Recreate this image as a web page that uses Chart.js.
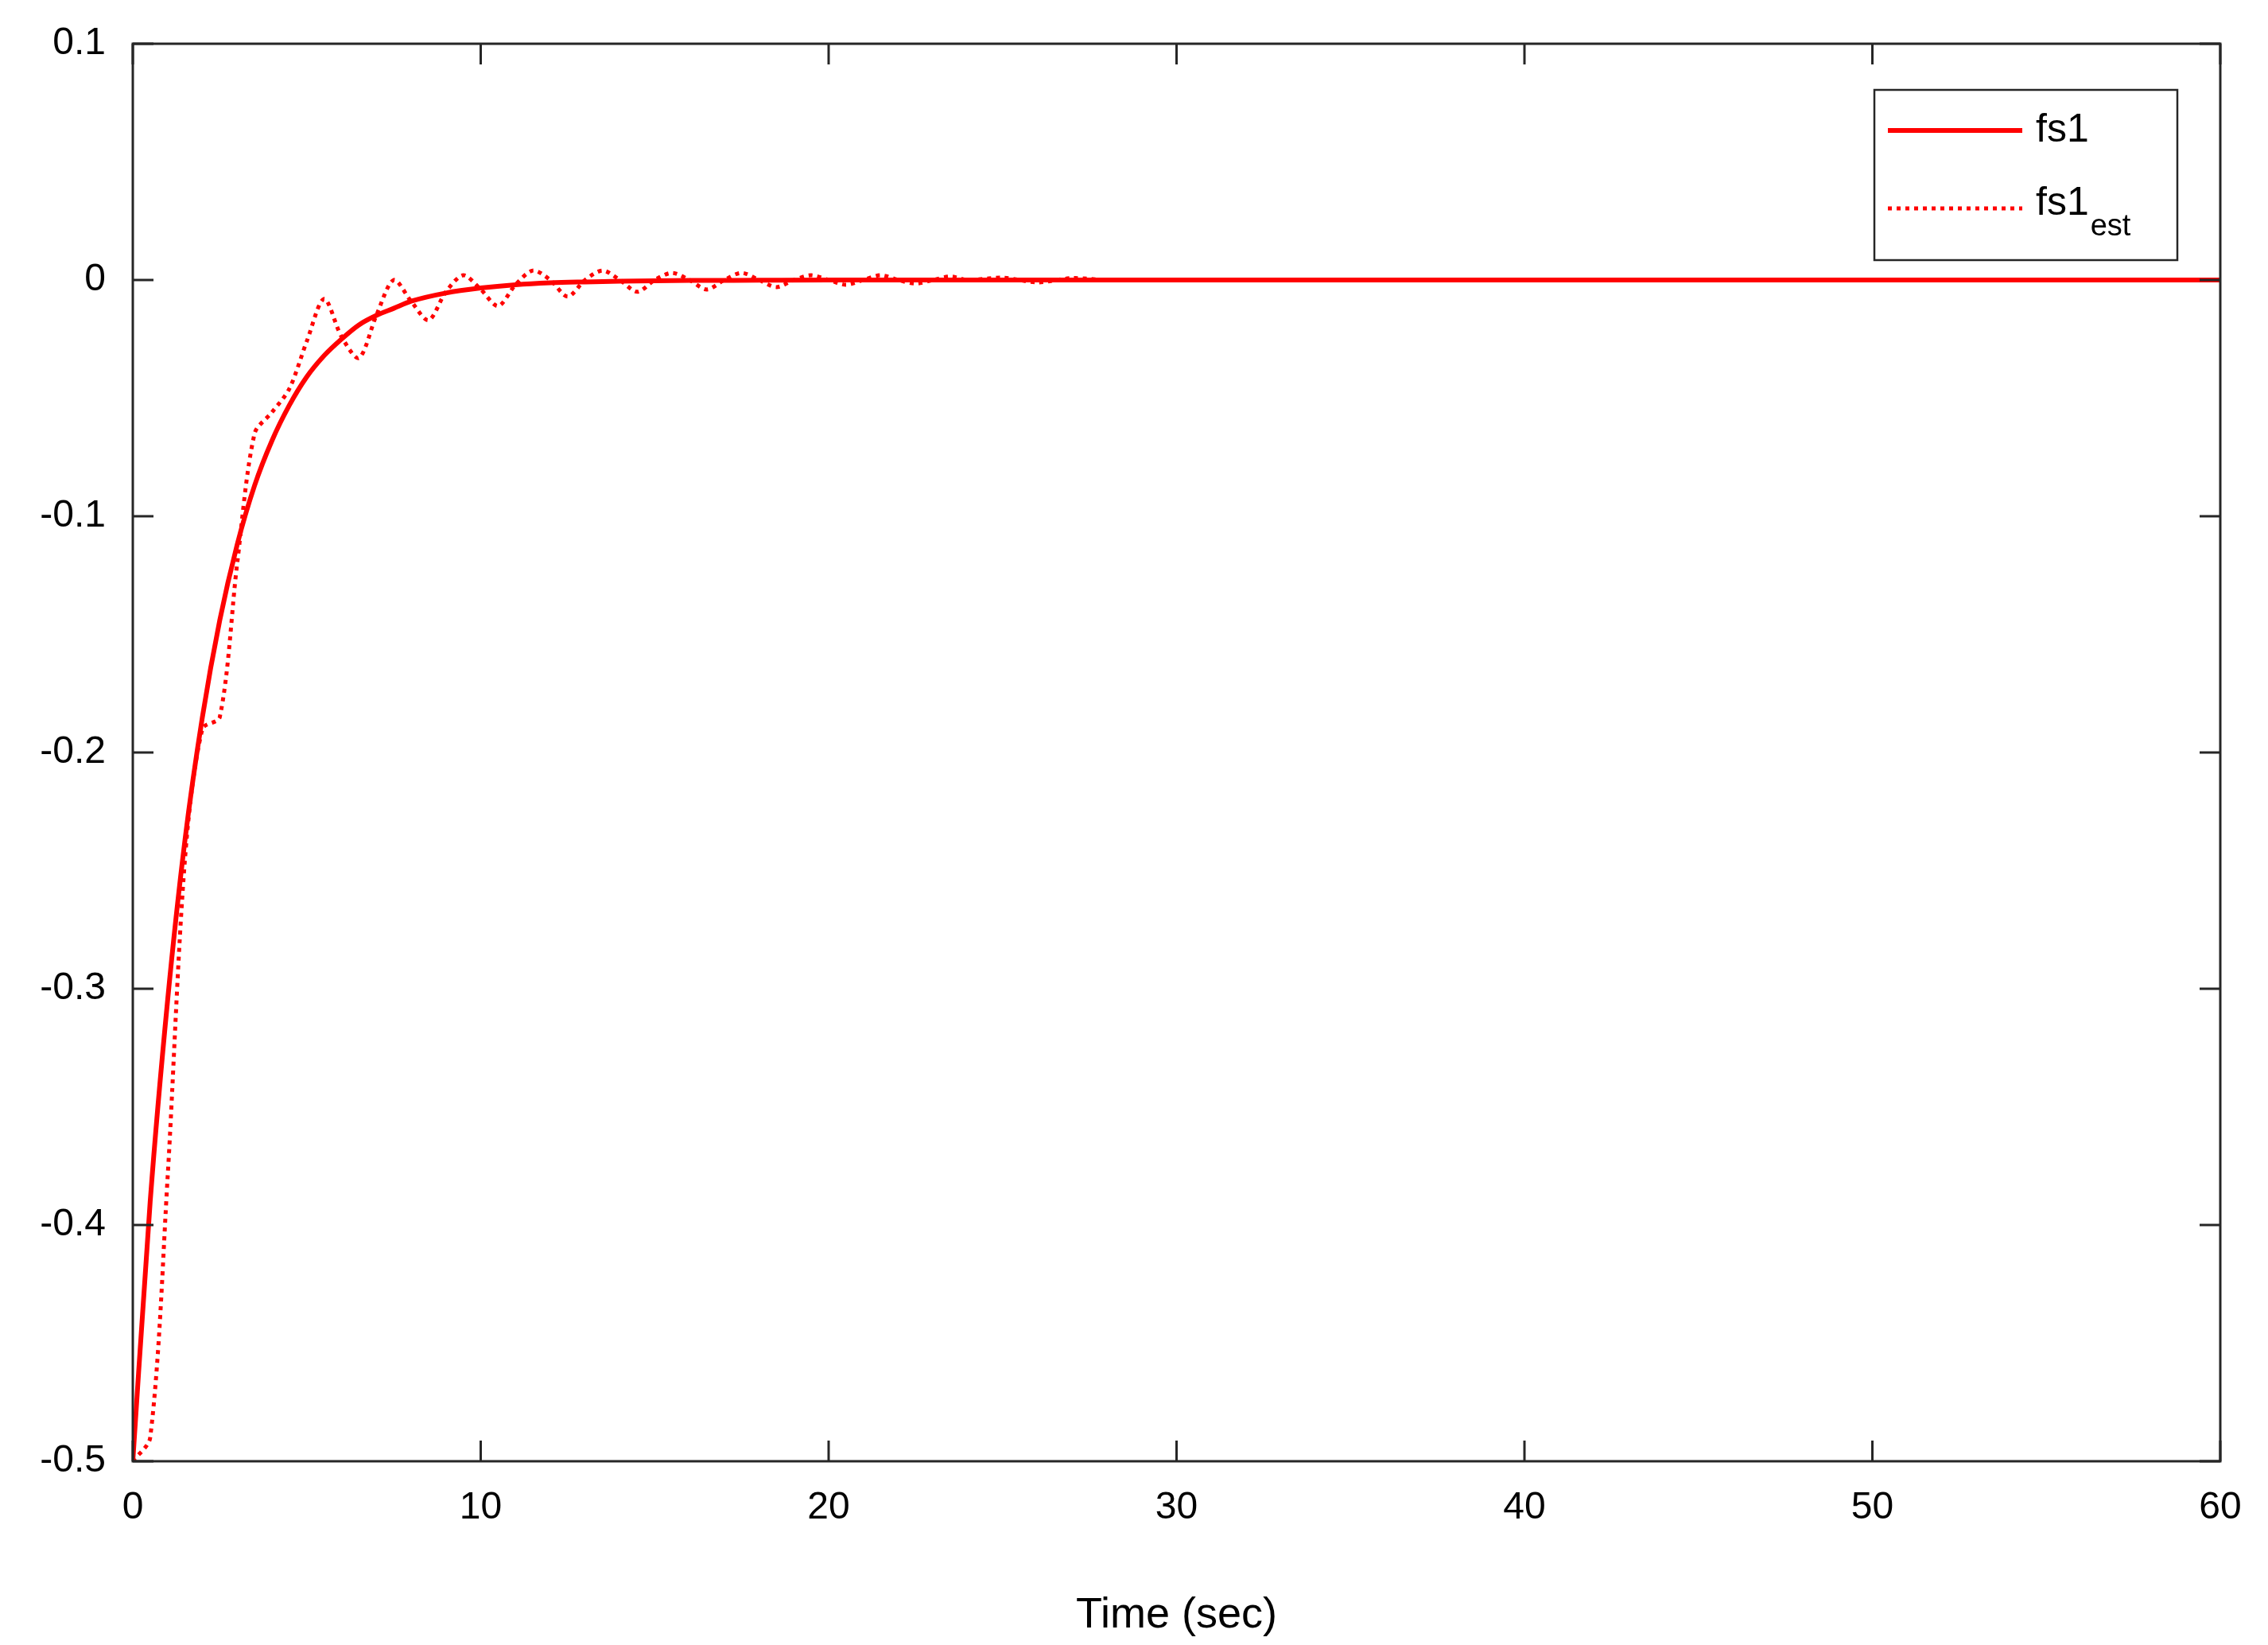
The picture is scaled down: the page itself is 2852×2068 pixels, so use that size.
<!DOCTYPE html>
<html>
<head>
<meta charset="utf-8">
<script src="https://cdn.jsdelivr.net/npm/chart.js@4"></script>
<style>body{margin:0;background:#fff}</style>
</head>
<body>
<canvas id="myChart" width="2852" height="2068"></canvas>
<script>
// solid line: fs1
var timeFs1 = [0,0.5,1,1.5,2,2.5,3,3.5,4,4.5,5,5.5,6,6.5,7,7.5,8,9,10,11,12,13,14,15,16,18,20,25,30,40,50,60];
var fs1 = [-0.5,-0.39,-0.305,-0.237,-0.185,-0.144,-0.112,-0.087,-0.068,-0.053,-0.041,-0.032,-0.025,-0.019,-0.015,-0.012,-0.009,-0.0055,-0.0034,-0.002,-0.0012,-0.0008,-0.0005,-0.0003,-0.0002,-0.0001,0,0,0,0,0,0];

// dotted line: fs1 estimate
var timeEst = [0,0.5,1,1.5,2,2.5,3,3.5,4,4.5,5,5.5,6,6.5,7,7.5,8,8.5,9,9.5,10,10.5,11,11.5,12,12.5,13,13.5,14,14.5,15,15.5,16,16.5,17,17.5,18,18.5,19,19.5,20,20.5,21,21.5,22,22.5,23,23.5,24,25,26,27,28,30,35,40,50,60];
var fs1Est = [-0.5,-0.49,-0.38,-0.245,-0.19,-0.185,-0.12,-0.065,-0.056,-0.046,-0.026,-0.008,-0.024,-0.033,-0.015,0.0,-0.009,-0.017,-0.005,0.002,-0.004,-0.011,-0.002,0.004,0.0,-0.007,0.0,0.004,0.0,-0.005,0.0,0.003,0.0,-0.004,0.0,0.003,0.0,-0.003,0.0,0.002,0.0,-0.002,0.0,0.002,0.0,-0.0015,0.0,0.0015,0.0,0.001,-0.001,0.0008,0,0,0,0,0,0];

var xTicks = [0,10,20,30,40,50,60];
var yTicks = [0.1,0,-0.1,-0.2,-0.3,-0.4,-0.5];
var yLabels = ["0.1","0","-0.1","-0.2","-0.3","-0.4","-0.5"];

var font = "'Liberation Sans', Arial, sans-serif";
var axisColor = "#262626";

var frame = {
    id: "frame",
    afterDraw: function(chart) {
        var c = chart.ctx, a = chart.chartArea;
        var xs = chart.scales.x, ys = chart.scales.y;
        c.save();
        c.strokeStyle = axisColor;
        c.lineWidth = 3;
        c.strokeRect(a.left, a.top, a.right - a.left, a.bottom - a.top);
        var t = 26;
        c.beginPath();
        xTicks.forEach(function(v) {
            var px = xs.getPixelForValue(v);
            c.moveTo(px, a.bottom); c.lineTo(px, a.bottom - t);
            c.moveTo(px, a.top); c.lineTo(px, a.top + t);
        });
        yTicks.forEach(function(v) {
            var py = ys.getPixelForValue(v);
            c.moveTo(a.left, py); c.lineTo(a.left + t, py);
            c.moveTo(a.right, py); c.lineTo(a.right - t, py);
        });
        c.stroke();

        // legend box
        var bx = 2357, by = 113, bw = 381, bh = 214;
        c.fillStyle = "#fff";
        c.fillRect(bx, by, bw, bh);
        c.lineWidth = 2.5;
        c.strokeStyle = axisColor;
        c.strokeRect(bx, by, bw, bh);
        c.strokeStyle = "#ff0000";
        c.lineWidth = 6;
        c.beginPath(); c.moveTo(2374, 164); c.lineTo(2543, 164); c.stroke();
        c.lineWidth = 5;
        c.setLineDash([5, 6]);
        c.beginPath(); c.moveTo(2374, 262); c.lineTo(2543, 262); c.stroke();
        c.setLineDash([]);
        c.fillStyle = "#000";
        c.textBaseline = "middle";
        c.font = "50px " + font;
        c.fillText("fs1", 2560, 164);
        c.fillText("fs1", 2560, 256);
        var w = c.measureText("fs1").width;
        c.font = "38px " + font;
        c.fillText("est", 2560 + w + 2, 286);
        c.restore();
    }
};

var ctx = document.getElementById("myChart").getContext("2d");
var myChart = new Chart(ctx, {
    type: "line",
    data: {
        datasets: [
            {
                label: "fs1",
                data: timeFs1.map(function(t, i) { return {x: t, y: fs1[i]}; }),
                borderColor: "#ff0000",
                borderWidth: 6,
                pointRadius: 0,
                tension: 0.4,
                cubicInterpolationMode: "monotone",
            },
            {
                label: "fs1est",
                data: timeEst.map(function(t, i) { return {x: t, y: fs1Est[i]}; }),
                borderColor: "#ff0000",
                borderWidth: 5,
                borderDash: [5, 6],
                pointRadius: 0,
                tension: 0.3,
            },
        ],
    },
    options: {
        responsive: false,
        devicePixelRatio: 1,
        animation: false,
        layout: { padding: { top: 55, right: 60, left: 0, bottom: 0 } },
        plugins: { legend: { display: false }, tooltip: { enabled: false } },
        scales: {
            x: {
                type: "linear",
                min: 0, max: 60,
                afterBuildTicks: function(s) { s.ticks = xTicks.map(function(v) { return {value: v}; }); },
                afterFit: function(s) { s.height = 231; },
                grid: { display: false },
                border: { display: false },
                ticks: { padding: 22, color: "#000", font: { family: font, size: 48 } },
                title: { display: true, text: "Time (sec)", color: "#000", padding: { top: 14 }, font: { family: font, size: 54 } },
            },
            y: {
                type: "linear",
                min: -0.5, max: 0.1,
                afterBuildTicks: function(s) { s.ticks = yTicks.map(function(v) { return {value: v}; }); },
                afterFit: function(s) { s.width = 167; },
                grid: { display: false },
                border: { display: false },
                ticks: {
                    padding: 26, color: "#000", font: { family: font, size: 48 },
                    callback: function(v) { return yLabels[yTicks.indexOf(Math.round(v * 10) / 10)]; },
                },
            },
        },
    },
    plugins: [frame],
});
</script>
</body>
</html>
